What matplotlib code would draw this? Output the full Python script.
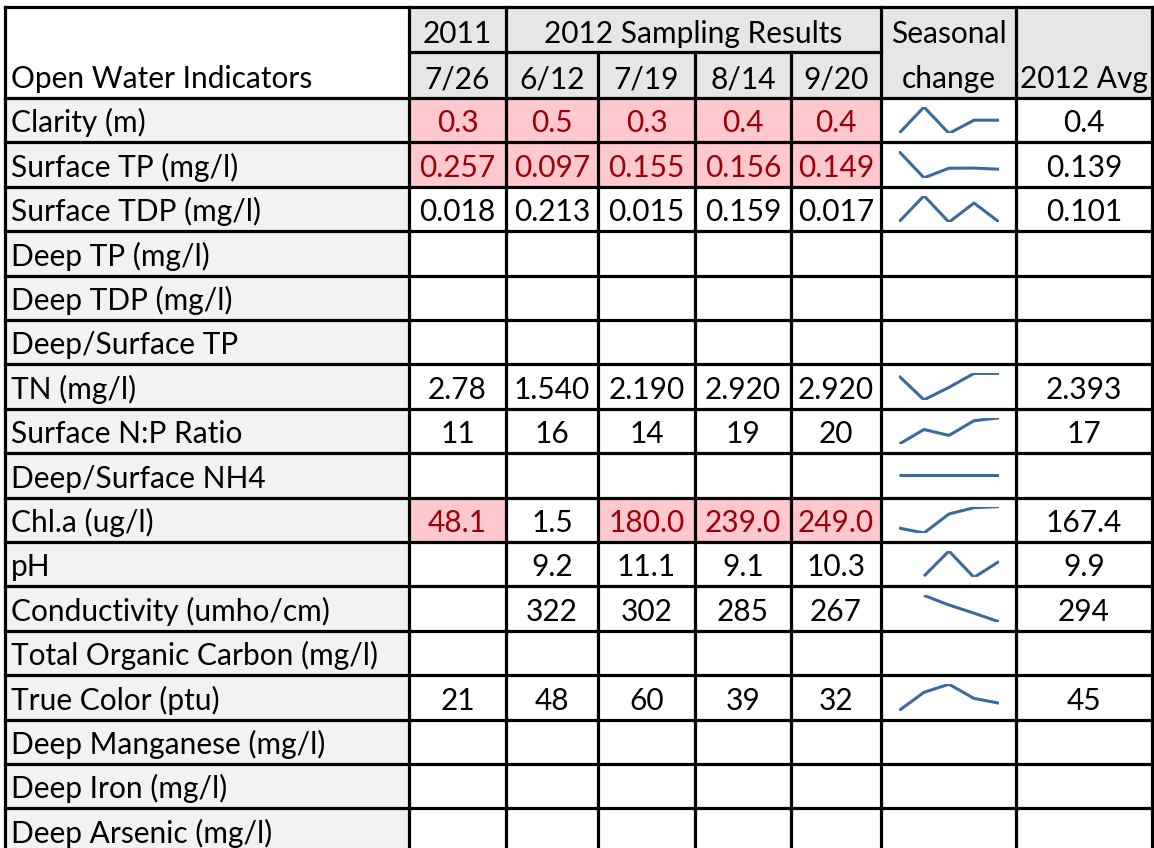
import numpy as np
import matplotlib
matplotlib.use("Agg")
import matplotlib.pyplot as plt
from matplotlib.patches import Rectangle

# ---------------- data ----------------
params = ["Clarity (m)", "Surface TP (mg/l)", "Surface TDP (mg/l)", "Deep TP (mg/l)",
          "Deep TDP (mg/l)", "Deep/Surface TP", "TN (mg/l)", "Surface N:P Ratio",
          "Deep/Surface NH4", "Chl.a (ug/l)", "pH", "Conductivity (umho/cm)",
          "Total Organic Carbon (mg/l)", "True Color (ptu)", "Deep Manganese (mg/l)",
          "Deep Iron (mg/l)", "Deep Arsenic (mg/l)"]
dates = ["7/26", "6/12", "7/19", "8/14", "9/20"]
v_0726 = ["0.3", "0.257", "0.018", "", "", "", "2.78", "11", "", "48.1", "", "", "", "21", "", "", ""]
v_0612 = ["0.5", "0.097", "0.213", "", "", "", "1.540", "16", "", "1.5", "9.2", "322", "", "48", "", "", ""]
v_0719 = ["0.3", "0.155", "0.015", "", "", "", "2.190", "14", "", "180.0", "11.1", "302", "", "60", "", "", ""]
v_0814 = ["0.4", "0.156", "0.159", "", "", "", "2.920", "19", "", "239.0", "9.1", "285", "", "39", "", "", ""]
v_0920 = ["0.4", "0.149", "0.017", "", "", "", "2.920", "20", "", "249.0", "10.3", "267", "", "32", "", "", ""]
avg_2012 = ["0.4", "0.139", "0.101", "", "", "", "2.393", "17", "", "167.4", "9.9", "294", "", "45", "", "", ""]
flagged = {"Clarity (m)": [1, 1, 1, 1, 1],
           "Surface TP (mg/l)": [1, 1, 1, 1, 1],
           "Chl.a (ug/l)": [1, 0, 1, 1, 1]}
nh4_flat = [0, 0, 0, 0, 0]

# ---------------- layout ----------------
W, H = 1154, 848
fig = plt.figure(figsize=(W / 100, H / 100), dpi=100)
ax = fig.add_axes([0, 0, 1, 1])
ax.set_xlim(0, W)
ax.set_ylim(H, 0)
ax.axis("off")

FONT = "Lato"
xs = [5, 409, 506, 598, 695, 791, 881, 1016, 1152]
hy = [7, 52, 98]
rh = 44.4
ys = [98 + rh * k for k in range(len(params) + 1)]

# calibrate font size on width
r = fig.canvas.get_renderer()
t = ax.text(0, 0, "2012 Sampling Results", fontsize=20, family=FONT)
w = t.get_window_extent(r).width
t.remove()
FS = 20 * 299 / w

HDR = "#e7e6e6"
LAB = "#f2f2f2"
PINK = "#ffc7ce"
DRED = "#9c0006"
LW = 2.3

def rect(x0, y0, x1, y1, c):
    ax.add_patch(Rectangle((x0, y0), x1 - x0, y1 - y0, facecolor=c, edgecolor="none", zorder=0))

def txt(x, y, s, ha="center", color="black"):
    ax.text(x, y, s, ha=ha, va="baseline", fontsize=FS, family=FONT, color=color, zorder=3)

# header backgrounds
rect(xs[1], hy[0], xs[8], hy[2], HDR)
rect(xs[0], hy[0], xs[1], hy[2], "white")

cols = [v_0726, v_0612, v_0719, v_0814, v_0920]
for i, p in enumerate(params):
    y0, y1 = ys[i], ys[i + 1]
    rect(xs[0], y0, xs[1], y1, LAB)
    txt(xs[0] + 6, y1 - 10, p, ha="left")
    fl = flagged.get(p, [0] * 5)
    for j, col in enumerate(cols):
        c = PINK if fl[j] else "white"
        rect(xs[1 + j], y0, xs[2 + j], y1, c)
        if col[i]:
            txt((xs[1 + j] + xs[2 + j]) / 2, y1 - 10, col[i], color=DRED if fl[j] else "black")
    rect(xs[6], y0, xs[8], y1, "white")
    if avg_2012[i]:
        txt((xs[7] + xs[8]) / 2, y1 - 10, avg_2012[i])

# header text
txt((xs[1] + xs[2]) / 2, hy[1] - 9, "2011")
txt((xs[2] + xs[6]) / 2, hy[1] - 9, "2012 Sampling Results")
txt((xs[6] + xs[7]) / 2, hy[1] - 9, "Seasonal")
txt((xs[6] + xs[7]) / 2, hy[2] - 10, "change")
txt((xs[7] + xs[8]) / 2, hy[2] - 10, "2012 Avg")
txt(xs[0] + 6, hy[2] - 10, "Open Water Indicators", ha="left")
for j, d in enumerate(dates):
    txt((xs[1 + j] + xs[2 + j]) / 2, hy[2] - 10, d)

# grid lines
def hline(y, x0, x1):
    ax.plot([x0, x1], [y, y], color="black", lw=LW, solid_capstyle="projecting", zorder=4)

def vline(x, y0, y1):
    ax.plot([x, x], [y0, y1], color="black", lw=LW, solid_capstyle="projecting", zorder=4)

hline(hy[0], xs[0], xs[8])
hline(hy[1], xs[1], xs[6])
for y in ys[:-1]:
    hline(y, xs[0], xs[8])
for x in [xs[0], xs[1], xs[2], xs[6], xs[7], xs[8]]:
    vline(x, hy[0], H + 5)
for x in xs[3:6]:
    vline(x, hy[1], H + 5)

# sparklines
SPC = "#3c6aa0"
for i, p in enumerate(params):
    vals = [float(c[i]) if c[i] else np.nan for c in cols]
    if p == "Deep/Surface NH4":
        vals = [float(v) for v in nh4_flat]
    if all(np.isnan(vals)):
        continue
    y0, y1 = ys[i], ys[i + 1]
    sx0, sx1 = 899, 999
    sy0, sy1 = y0 + 9, y1 - 9
    sax = fig.add_axes([sx0 / W, 1 - sy1 / H, (sx1 - sx0) / W, (sy1 - sy0) / H])
    sax.patch.set_alpha(0)
    sax.axis("off")
    x = np.arange(5)
    v = np.array(vals)
    m = ~np.isnan(v)
    sax.plot(x[m], v[m], color=SPC, lw=2.2, solid_joinstyle="round", solid_capstyle="butt")
    sax.set_xlim(0, 4)
    lo, hi = np.nanmin(v), np.nanmax(v)
    if hi == lo:
        sax.set_ylim(lo - 1, hi + 1)
    else:
        sax.set_ylim(lo, hi)

fig.savefig("out.png", dpi=100)
